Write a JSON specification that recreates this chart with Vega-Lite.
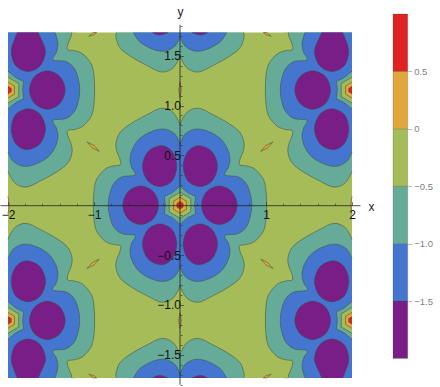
{"$schema":"https://vega.github.io/schema/vega-lite/v6.json","padding":{"left":0,"top":5,"right":0,"bottom":0},"background":"white","bounds":"flush","spacing":33,"config":{"view":{"stroke":null},"font":"Liberation Sans"},
"datasets":{"c":[
{"s":1,"l":"t","x":0,"y":0.813},{"s":1,"l":"t","x":0,"y":0.813},{"s":1,"l":"t","x":0.078,"y":0.93},{"s":1,"l":"t","x":0.213,"y":0.973},{"s":1,"l":"t","x":0.388,"y":0.906},{"s":1,"l":"t","x":0.581,"y":0.813},{"s":1,"l":"t","x":0.698,"y":0.729},{"s":1,"l":"t","x":0.744,"y":0.629},{"s":1,"l":"t","x":0.736,"y":0.545},{"s":1,"l":"t","x":0.698,"y":0.462},{"s":1,"l":"t","x":0.695,"y":0.405},{"s":1,"l":"t","x":0.775,"y":0.395},{"s":1,"l":"t","x":0.872,"y":0.361},{"s":1,"l":"t","x":0.969,"y":0.261},{"s":1,"l":"t","x":1.0,"y":0.144},{"s":1,"l":"t","x":1.008,"y":0},{"s":1,"l":"t","x":1.0,"y":-0.144},{"s":1,"l":"t","x":0.969,"y":-0.261},{"s":1,"l":"t","x":0.872,"y":-0.361},{"s":1,"l":"t","x":0.775,"y":-0.395},{"s":1,"l":"t","x":0.695,"y":-0.405},{"s":1,"l":"t","x":0.698,"y":-0.462},{"s":1,"l":"t","x":0.736,"y":-0.545},{"s":1,"l":"t","x":0.744,"y":-0.629},{"s":1,"l":"t","x":0.698,"y":-0.729},{"s":1,"l":"t","x":0.581,"y":-0.813},{"s":1,"l":"t","x":0.388,"y":-0.906},{"s":1,"l":"t","x":0.213,"y":-0.973},{"s":1,"l":"t","x":0.078,"y":-0.93},{"s":1,"l":"t","x":0,"y":-0.813},{"s":1,"l":"t","x":0,"y":-0.813},{"s":1,"l":"t","x":-0.078,"y":-0.93},{"s":1,"l":"t","x":-0.213,"y":-0.973},{"s":1,"l":"t","x":-0.388,"y":-0.906},{"s":1,"l":"t","x":-0.581,"y":-0.813},{"s":1,"l":"t","x":-0.698,"y":-0.729},{"s":1,"l":"t","x":-0.744,"y":-0.629},{"s":1,"l":"t","x":-0.736,"y":-0.545},{"s":1,"l":"t","x":-0.698,"y":-0.462},{"s":1,"l":"t","x":-0.695,"y":-0.405},{"s":1,"l":"t","x":-0.775,"y":-0.395},{"s":1,"l":"t","x":-0.872,"y":-0.361},{"s":1,"l":"t","x":-0.969,"y":-0.261},{"s":1,"l":"t","x":-1.0,"y":-0.144},{"s":1,"l":"t","x":-1.008,"y":0},{"s":1,"l":"t","x":-1.0,"y":0.144},{"s":1,"l":"t","x":-0.969,"y":0.261},{"s":1,"l":"t","x":-0.872,"y":0.361},{"s":1,"l":"t","x":-0.775,"y":0.395},{"s":1,"l":"t","x":-0.695,"y":0.405},{"s":1,"l":"t","x":-0.698,"y":0.462},{"s":1,"l":"t","x":-0.736,"y":0.545},{"s":1,"l":"t","x":-0.744,"y":0.629},{"s":1,"l":"t","x":-0.698,"y":0.729},{"s":1,"l":"t","x":-0.581,"y":0.813},{"s":1,"l":"t","x":-0.388,"y":0.906},{"s":1,"l":"t","x":-0.213,"y":0.973},{"s":1,"l":"t","x":-0.078,"y":0.93},{"s":1,"l":"t","x":0,"y":0.813},{"s":1,"l":"t","x":0,"y":0.813},
{"s":2,"l":"t","c":1,"x":-2,"y":1.732},{"s":2,"l":"t","c":1,"x":-2,"y":1.732},{"s":2,"l":"t","c":1,"x":-1.26,"y":1.732},{"s":2,"l":"t","x":-1.26,"y":1.732},{"s":2,"l":"t","x":-1.264,"y":1.7},{"s":2,"l":"t","x":-1.302,"y":1.617},{"s":2,"l":"t","x":-1.305,"y":1.56},{"s":2,"l":"t","x":-1.225,"y":1.55},{"s":2,"l":"t","x":-1.128,"y":1.516},{"s":2,"l":"t","x":-1.031,"y":1.416},{"s":2,"l":"t","x":-1,"y":1.299},{"s":2,"l":"t","x":-0.992,"y":1.155},{"s":2,"l":"t","x":-1,"y":1.011},{"s":2,"l":"t","x":-1.031,"y":0.894},{"s":2,"l":"t","x":-1.128,"y":0.794},{"s":2,"l":"t","x":-1.225,"y":0.76},{"s":2,"l":"t","x":-1.305,"y":0.75},{"s":2,"l":"t","x":-1.302,"y":0.693},{"s":2,"l":"t","x":-1.264,"y":0.61},{"s":2,"l":"t","x":-1.256,"y":0.526},{"s":2,"l":"t","x":-1.302,"y":0.426},{"s":2,"l":"t","x":-1.419,"y":0.342},{"s":2,"l":"t","x":-1.612,"y":0.249},{"s":2,"l":"t","x":-1.787,"y":0.182},{"s":2,"l":"t","x":-1.922,"y":0.225},{"s":2,"l":"t","x":-2,"y":0.342},
{"s":3,"l":"t","c":1,"x":2,"y":1.732},{"s":3,"l":"t","c":1,"x":2,"y":1.732},{"s":3,"l":"t","c":1,"x":1.26,"y":1.732},{"s":3,"l":"t","x":1.26,"y":1.732},{"s":3,"l":"t","x":1.264,"y":1.7},{"s":3,"l":"t","x":1.302,"y":1.617},{"s":3,"l":"t","x":1.305,"y":1.56},{"s":3,"l":"t","x":1.225,"y":1.55},{"s":3,"l":"t","x":1.128,"y":1.516},{"s":3,"l":"t","x":1.031,"y":1.416},{"s":3,"l":"t","x":1,"y":1.299},{"s":3,"l":"t","x":0.992,"y":1.155},{"s":3,"l":"t","x":1,"y":1.011},{"s":3,"l":"t","x":1.031,"y":0.894},{"s":3,"l":"t","x":1.128,"y":0.794},{"s":3,"l":"t","x":1.225,"y":0.76},{"s":3,"l":"t","x":1.305,"y":0.75},{"s":3,"l":"t","x":1.302,"y":0.693},{"s":3,"l":"t","x":1.264,"y":0.61},{"s":3,"l":"t","x":1.256,"y":0.526},{"s":3,"l":"t","x":1.302,"y":0.426},{"s":3,"l":"t","x":1.419,"y":0.342},{"s":3,"l":"t","x":1.612,"y":0.249},{"s":3,"l":"t","x":1.787,"y":0.182},{"s":3,"l":"t","x":1.922,"y":0.225},{"s":3,"l":"t","x":2,"y":0.342},
{"s":4,"l":"t","c":1,"x":-2,"y":-1.732},{"s":4,"l":"t","c":1,"x":-2,"y":-1.732},{"s":4,"l":"t","c":1,"x":-1.26,"y":-1.732},{"s":4,"l":"t","x":-1.26,"y":-1.732},{"s":4,"l":"t","x":-1.264,"y":-1.7},{"s":4,"l":"t","x":-1.302,"y":-1.617},{"s":4,"l":"t","x":-1.305,"y":-1.56},{"s":4,"l":"t","x":-1.225,"y":-1.55},{"s":4,"l":"t","x":-1.128,"y":-1.516},{"s":4,"l":"t","x":-1.031,"y":-1.416},{"s":4,"l":"t","x":-1,"y":-1.299},{"s":4,"l":"t","x":-0.992,"y":-1.155},{"s":4,"l":"t","x":-1,"y":-1.011},{"s":4,"l":"t","x":-1.031,"y":-0.894},{"s":4,"l":"t","x":-1.128,"y":-0.794},{"s":4,"l":"t","x":-1.225,"y":-0.76},{"s":4,"l":"t","x":-1.305,"y":-0.75},{"s":4,"l":"t","x":-1.302,"y":-0.693},{"s":4,"l":"t","x":-1.264,"y":-0.61},{"s":4,"l":"t","x":-1.256,"y":-0.526},{"s":4,"l":"t","x":-1.302,"y":-0.426},{"s":4,"l":"t","x":-1.419,"y":-0.342},{"s":4,"l":"t","x":-1.612,"y":-0.249},{"s":4,"l":"t","x":-1.787,"y":-0.182},{"s":4,"l":"t","x":-1.922,"y":-0.225},{"s":4,"l":"t","x":-2,"y":-0.342},
{"s":5,"l":"t","c":1,"x":2,"y":-1.732},{"s":5,"l":"t","c":1,"x":2,"y":-1.732},{"s":5,"l":"t","c":1,"x":1.26,"y":-1.732},{"s":5,"l":"t","x":1.26,"y":-1.732},{"s":5,"l":"t","x":1.264,"y":-1.7},{"s":5,"l":"t","x":1.302,"y":-1.617},{"s":5,"l":"t","x":1.305,"y":-1.56},{"s":5,"l":"t","x":1.225,"y":-1.55},{"s":5,"l":"t","x":1.128,"y":-1.516},{"s":5,"l":"t","x":1.031,"y":-1.416},{"s":5,"l":"t","x":1,"y":-1.299},{"s":5,"l":"t","x":0.992,"y":-1.155},{"s":5,"l":"t","x":1,"y":-1.011},{"s":5,"l":"t","x":1.031,"y":-0.894},{"s":5,"l":"t","x":1.128,"y":-0.794},{"s":5,"l":"t","x":1.225,"y":-0.76},{"s":5,"l":"t","x":1.305,"y":-0.75},{"s":5,"l":"t","x":1.302,"y":-0.693},{"s":5,"l":"t","x":1.264,"y":-0.61},{"s":5,"l":"t","x":1.256,"y":-0.526},{"s":5,"l":"t","x":1.302,"y":-0.426},{"s":5,"l":"t","x":1.419,"y":-0.342},{"s":5,"l":"t","x":1.612,"y":-0.249},{"s":5,"l":"t","x":1.787,"y":-0.182},{"s":5,"l":"t","x":1.922,"y":-0.225},{"s":5,"l":"t","x":2,"y":-0.342},
{"s":6,"l":"t","x":0.74,"y":1.732},{"s":6,"l":"t","x":0.744,"y":1.68},{"s":6,"l":"t","x":0.698,"y":1.58},{"s":6,"l":"t","x":0.581,"y":1.496},{"s":6,"l":"t","x":0.388,"y":1.403},{"s":6,"l":"t","x":0.213,"y":1.336},{"s":6,"l":"t","x":0.078,"y":1.379},{"s":6,"l":"t","x":0,"y":1.496},{"s":6,"l":"t","x":0,"y":1.496},{"s":6,"l":"t","x":-0.078,"y":1.379},{"s":6,"l":"t","x":-0.213,"y":1.336},{"s":6,"l":"t","x":-0.388,"y":1.403},{"s":6,"l":"t","x":-0.581,"y":1.496},{"s":6,"l":"t","x":-0.698,"y":1.58},{"s":6,"l":"t","x":-0.744,"y":1.68},{"s":6,"l":"t","x":-0.74,"y":1.732},
{"s":7,"l":"t","x":0.74,"y":-1.732},{"s":7,"l":"t","x":0.744,"y":-1.68},{"s":7,"l":"t","x":0.698,"y":-1.58},{"s":7,"l":"t","x":0.581,"y":-1.496},{"s":7,"l":"t","x":0.388,"y":-1.403},{"s":7,"l":"t","x":0.213,"y":-1.336},{"s":7,"l":"t","x":0.078,"y":-1.379},{"s":7,"l":"t","x":0,"y":-1.496},{"s":7,"l":"t","x":0,"y":-1.496},{"s":7,"l":"t","x":-0.078,"y":-1.379},{"s":7,"l":"t","x":-0.213,"y":-1.336},{"s":7,"l":"t","x":-0.388,"y":-1.403},{"s":7,"l":"t","x":-0.581,"y":-1.496},{"s":7,"l":"t","x":-0.698,"y":-1.58},{"s":7,"l":"t","x":-0.744,"y":-1.68},{"s":7,"l":"t","x":-0.74,"y":-1.732},
{"s":8,"l":"b","x":0,"y":0.62},{"s":8,"l":"b","x":0,"y":0.62},{"s":8,"l":"b","x":0.058,"y":0.712},{"s":8,"l":"b","x":0.174,"y":0.763},{"s":8,"l":"b","x":0.31,"y":0.746},{"s":8,"l":"b","x":0.465,"y":0.672},{"s":8,"l":"b","x":0.554,"y":0.562},{"s":8,"l":"b","x":0.581,"y":0.462},{"s":8,"l":"b","x":0.562,"y":0.378},{"s":8,"l":"b","x":0.523,"y":0.304},{"s":8,"l":"b","x":0.678,"y":0.284},{"s":8,"l":"b","x":0.775,"y":0.211},{"s":8,"l":"b","x":0.822,"y":0.094},{"s":8,"l":"b","x":0.833,"y":0},{"s":8,"l":"b","x":0.822,"y":-0.094},{"s":8,"l":"b","x":0.775,"y":-0.211},{"s":8,"l":"b","x":0.678,"y":-0.284},{"s":8,"l":"b","x":0.523,"y":-0.304},{"s":8,"l":"b","x":0.562,"y":-0.378},{"s":8,"l":"b","x":0.581,"y":-0.462},{"s":8,"l":"b","x":0.554,"y":-0.562},{"s":8,"l":"b","x":0.465,"y":-0.672},{"s":8,"l":"b","x":0.31,"y":-0.746},{"s":8,"l":"b","x":0.174,"y":-0.763},{"s":8,"l":"b","x":0.058,"y":-0.712},{"s":8,"l":"b","x":0,"y":-0.62},{"s":8,"l":"b","x":0,"y":-0.62},{"s":8,"l":"b","x":-0.058,"y":-0.712},{"s":8,"l":"b","x":-0.174,"y":-0.763},{"s":8,"l":"b","x":-0.31,"y":-0.746},{"s":8,"l":"b","x":-0.465,"y":-0.672},{"s":8,"l":"b","x":-0.554,"y":-0.562},{"s":8,"l":"b","x":-0.581,"y":-0.462},{"s":8,"l":"b","x":-0.562,"y":-0.378},{"s":8,"l":"b","x":-0.523,"y":-0.304},{"s":8,"l":"b","x":-0.678,"y":-0.284},{"s":8,"l":"b","x":-0.775,"y":-0.211},{"s":8,"l":"b","x":-0.822,"y":-0.094},{"s":8,"l":"b","x":-0.833,"y":0},{"s":8,"l":"b","x":-0.822,"y":0.094},{"s":8,"l":"b","x":-0.775,"y":0.211},{"s":8,"l":"b","x":-0.678,"y":0.284},{"s":8,"l":"b","x":-0.523,"y":0.304},{"s":8,"l":"b","x":-0.562,"y":0.378},{"s":8,"l":"b","x":-0.581,"y":0.462},{"s":8,"l":"b","x":-0.554,"y":0.562},{"s":8,"l":"b","x":-0.465,"y":0.672},{"s":8,"l":"b","x":-0.31,"y":0.746},{"s":8,"l":"b","x":-0.174,"y":0.763},{"s":8,"l":"b","x":-0.058,"y":0.712},{"s":8,"l":"b","x":0,"y":0.62},{"s":8,"l":"b","x":0,"y":0.62},
{"s":9,"l":"b","c":1,"x":-2,"y":1.732},{"s":9,"l":"b","c":1,"x":-2,"y":1.732},{"s":9,"l":"b","c":1,"x":-1.458,"y":1.732},{"s":9,"l":"b","x":-1.458,"y":1.732},{"s":9,"l":"b","x":-1.446,"y":1.717},{"s":9,"l":"b","x":-1.419,"y":1.617},{"s":9,"l":"b","x":-1.438,"y":1.533},{"s":9,"l":"b","x":-1.477,"y":1.459},{"s":9,"l":"b","x":-1.322,"y":1.439},{"s":9,"l":"b","x":-1.225,"y":1.366},{"s":9,"l":"b","x":-1.178,"y":1.249},{"s":9,"l":"b","x":-1.167,"y":1.155},{"s":9,"l":"b","x":-1.178,"y":1.061},{"s":9,"l":"b","x":-1.225,"y":0.944},{"s":9,"l":"b","x":-1.322,"y":0.871},{"s":9,"l":"b","x":-1.477,"y":0.851},{"s":9,"l":"b","x":-1.438,"y":0.777},{"s":9,"l":"b","x":-1.419,"y":0.693},{"s":9,"l":"b","x":-1.446,"y":0.593},{"s":9,"l":"b","x":-1.535,"y":0.483},{"s":9,"l":"b","x":-1.69,"y":0.409},{"s":9,"l":"b","x":-1.826,"y":0.392},{"s":9,"l":"b","x":-1.942,"y":0.443},{"s":9,"l":"b","x":-2,"y":0.535},
{"s":10,"l":"b","c":1,"x":2,"y":1.732},{"s":10,"l":"b","c":1,"x":2,"y":1.732},{"s":10,"l":"b","c":1,"x":1.458,"y":1.732},{"s":10,"l":"b","x":1.458,"y":1.732},{"s":10,"l":"b","x":1.446,"y":1.717},{"s":10,"l":"b","x":1.419,"y":1.617},{"s":10,"l":"b","x":1.438,"y":1.533},{"s":10,"l":"b","x":1.477,"y":1.459},{"s":10,"l":"b","x":1.322,"y":1.439},{"s":10,"l":"b","x":1.225,"y":1.366},{"s":10,"l":"b","x":1.178,"y":1.249},{"s":10,"l":"b","x":1.167,"y":1.155},{"s":10,"l":"b","x":1.178,"y":1.061},{"s":10,"l":"b","x":1.225,"y":0.944},{"s":10,"l":"b","x":1.322,"y":0.871},{"s":10,"l":"b","x":1.477,"y":0.851},{"s":10,"l":"b","x":1.438,"y":0.777},{"s":10,"l":"b","x":1.419,"y":0.693},{"s":10,"l":"b","x":1.446,"y":0.593},{"s":10,"l":"b","x":1.535,"y":0.483},{"s":10,"l":"b","x":1.69,"y":0.409},{"s":10,"l":"b","x":1.826,"y":0.392},{"s":10,"l":"b","x":1.942,"y":0.443},{"s":10,"l":"b","x":2,"y":0.535},
{"s":11,"l":"b","c":1,"x":-2,"y":-1.732},{"s":11,"l":"b","c":1,"x":-2,"y":-1.732},{"s":11,"l":"b","c":1,"x":-1.458,"y":-1.732},{"s":11,"l":"b","x":-1.458,"y":-1.732},{"s":11,"l":"b","x":-1.446,"y":-1.717},{"s":11,"l":"b","x":-1.419,"y":-1.617},{"s":11,"l":"b","x":-1.438,"y":-1.533},{"s":11,"l":"b","x":-1.477,"y":-1.459},{"s":11,"l":"b","x":-1.322,"y":-1.439},{"s":11,"l":"b","x":-1.225,"y":-1.366},{"s":11,"l":"b","x":-1.178,"y":-1.249},{"s":11,"l":"b","x":-1.167,"y":-1.155},{"s":11,"l":"b","x":-1.178,"y":-1.061},{"s":11,"l":"b","x":-1.225,"y":-0.944},{"s":11,"l":"b","x":-1.322,"y":-0.871},{"s":11,"l":"b","x":-1.477,"y":-0.851},{"s":11,"l":"b","x":-1.438,"y":-0.777},{"s":11,"l":"b","x":-1.419,"y":-0.693},{"s":11,"l":"b","x":-1.446,"y":-0.593},{"s":11,"l":"b","x":-1.535,"y":-0.483},{"s":11,"l":"b","x":-1.69,"y":-0.409},{"s":11,"l":"b","x":-1.826,"y":-0.392},{"s":11,"l":"b","x":-1.942,"y":-0.443},{"s":11,"l":"b","x":-2,"y":-0.535},
{"s":12,"l":"b","c":1,"x":2,"y":-1.732},{"s":12,"l":"b","c":1,"x":2,"y":-1.732},{"s":12,"l":"b","c":1,"x":1.458,"y":-1.732},{"s":12,"l":"b","x":1.458,"y":-1.732},{"s":12,"l":"b","x":1.446,"y":-1.717},{"s":12,"l":"b","x":1.419,"y":-1.617},{"s":12,"l":"b","x":1.438,"y":-1.533},{"s":12,"l":"b","x":1.477,"y":-1.459},{"s":12,"l":"b","x":1.322,"y":-1.439},{"s":12,"l":"b","x":1.225,"y":-1.366},{"s":12,"l":"b","x":1.178,"y":-1.249},{"s":12,"l":"b","x":1.167,"y":-1.155},{"s":12,"l":"b","x":1.178,"y":-1.061},{"s":12,"l":"b","x":1.225,"y":-0.944},{"s":12,"l":"b","x":1.322,"y":-0.871},{"s":12,"l":"b","x":1.477,"y":-0.851},{"s":12,"l":"b","x":1.438,"y":-0.777},{"s":12,"l":"b","x":1.419,"y":-0.693},{"s":12,"l":"b","x":1.446,"y":-0.593},{"s":12,"l":"b","x":1.535,"y":-0.483},{"s":12,"l":"b","x":1.69,"y":-0.409},{"s":12,"l":"b","x":1.826,"y":-0.392},{"s":12,"l":"b","x":1.942,"y":-0.443},{"s":12,"l":"b","x":2,"y":-0.535},
{"s":13,"l":"b","x":0.542,"y":1.732},{"s":13,"l":"b","x":0.465,"y":1.637},{"s":13,"l":"b","x":0.31,"y":1.563},{"s":13,"l":"b","x":0.174,"y":1.546},{"s":13,"l":"b","x":0.058,"y":1.597},{"s":13,"l":"b","x":0,"y":1.69},{"s":13,"l":"b","x":0,"y":1.69},{"s":13,"l":"b","x":-0.058,"y":1.597},{"s":13,"l":"b","x":-0.174,"y":1.546},{"s":13,"l":"b","x":-0.31,"y":1.563},{"s":13,"l":"b","x":-0.465,"y":1.637},{"s":13,"l":"b","x":-0.542,"y":1.732},
{"s":14,"l":"b","x":0.542,"y":-1.732},{"s":14,"l":"b","x":0.465,"y":-1.637},{"s":14,"l":"b","x":0.31,"y":-1.563},{"s":14,"l":"b","x":0.174,"y":-1.546},{"s":14,"l":"b","x":0.058,"y":-1.597},{"s":14,"l":"b","x":0,"y":-1.69},{"s":14,"l":"b","x":0,"y":-1.69},{"s":14,"l":"b","x":-0.058,"y":-1.597},{"s":14,"l":"b","x":-0.174,"y":-1.546},{"s":14,"l":"b","x":-0.31,"y":-1.563},{"s":14,"l":"b","x":-0.465,"y":-1.637},{"s":14,"l":"b","x":-0.542,"y":-1.732},
{"s":15,"l":"p","x":-1.65,"y":1.732},{"s":15,"l":"p","x":-1.63,"y":1.695},{"s":15,"l":"p","x":-1.564,"y":1.545},{"s":15,"l":"p","x":-1.625,"y":1.4},{"s":15,"l":"p","x":-1.765,"y":1.342},{"s":15,"l":"p","x":-1.91,"y":1.4},{"s":15,"l":"p","x":-1.962,"y":1.545},{"s":15,"l":"p","x":-1.915,"y":1.685},{"s":15,"l":"p","x":-1.89,"y":1.732},
{"s":16,"l":"p","x":1.65,"y":1.732},{"s":16,"l":"p","x":1.63,"y":1.695},{"s":16,"l":"p","x":1.564,"y":1.545},{"s":16,"l":"p","x":1.625,"y":1.4},{"s":16,"l":"p","x":1.765,"y":1.342},{"s":16,"l":"p","x":1.91,"y":1.4},{"s":16,"l":"p","x":1.962,"y":1.545},{"s":16,"l":"p","x":1.915,"y":1.685},{"s":16,"l":"p","x":1.89,"y":1.732},
{"s":17,"l":"p","x":-1.65,"y":-1.732},{"s":17,"l":"p","x":-1.63,"y":-1.695},{"s":17,"l":"p","x":-1.564,"y":-1.545},{"s":17,"l":"p","x":-1.625,"y":-1.4},{"s":17,"l":"p","x":-1.765,"y":-1.342},{"s":17,"l":"p","x":-1.91,"y":-1.4},{"s":17,"l":"p","x":-1.962,"y":-1.545},{"s":17,"l":"p","x":-1.915,"y":-1.685},{"s":17,"l":"p","x":-1.89,"y":-1.732},
{"s":18,"l":"p","x":1.65,"y":-1.732},{"s":18,"l":"p","x":1.63,"y":-1.695},{"s":18,"l":"p","x":1.564,"y":-1.545},{"s":18,"l":"p","x":1.625,"y":-1.4},{"s":18,"l":"p","x":1.765,"y":-1.342},{"s":18,"l":"p","x":1.91,"y":-1.4},{"s":18,"l":"p","x":1.962,"y":-1.545},{"s":18,"l":"p","x":1.915,"y":-1.685},{"s":18,"l":"p","x":1.89,"y":-1.732},
{"s":19,"l":"p","x":0.32,"y":1.732},{"s":19,"l":"p","x":0.28,"y":1.714},{"s":19,"l":"p","x":0.235,"y":1.708},{"s":19,"l":"p","x":0.19,"y":1.714},{"s":19,"l":"p","x":0.14,"y":1.732},
{"s":20,"l":"p","x":-0.32,"y":1.732},{"s":20,"l":"p","x":-0.28,"y":1.714},{"s":20,"l":"p","x":-0.235,"y":1.708},{"s":20,"l":"p","x":-0.19,"y":1.714},{"s":20,"l":"p","x":-0.14,"y":1.732},
{"s":21,"l":"p","x":0.32,"y":-1.732},{"s":21,"l":"p","x":0.28,"y":-1.714},{"s":21,"l":"p","x":0.235,"y":-1.708},{"s":21,"l":"p","x":0.19,"y":-1.714},{"s":21,"l":"p","x":0.14,"y":-1.732},
{"s":22,"l":"p","x":-0.32,"y":-1.732},{"s":22,"l":"p","x":-0.28,"y":-1.714},{"s":22,"l":"p","x":-0.235,"y":-1.708},{"s":22,"l":"p","x":-0.19,"y":-1.714},{"s":22,"l":"p","x":-0.14,"y":-1.732},
{"s":40,"l":"p","x":0.21,"y":0.597},{"s":40,"l":"p","x":0.37,"y":0.54},{"s":40,"l":"p","x":0.436,"y":0.39},{"s":40,"l":"p","x":0.375,"y":0.245},{"s":40,"l":"p","x":0.235,"y":0.187},{"s":40,"l":"p","x":0.09,"y":0.245},{"s":40,"l":"p","x":0.038,"y":0.39},{"s":40,"l":"p","x":0.085,"y":0.53},
{"s":41,"l":"p","x":-0.21,"y":0.597},{"s":41,"l":"p","x":-0.37,"y":0.54},{"s":41,"l":"p","x":-0.436,"y":0.39},{"s":41,"l":"p","x":-0.375,"y":0.245},{"s":41,"l":"p","x":-0.235,"y":0.187},{"s":41,"l":"p","x":-0.09,"y":0.245},{"s":41,"l":"p","x":-0.038,"y":0.39},{"s":41,"l":"p","x":-0.085,"y":0.53},
{"s":42,"l":"p","x":0.21,"y":-0.597},{"s":42,"l":"p","x":0.37,"y":-0.54},{"s":42,"l":"p","x":0.436,"y":-0.39},{"s":42,"l":"p","x":0.375,"y":-0.245},{"s":42,"l":"p","x":0.235,"y":-0.187},{"s":42,"l":"p","x":0.09,"y":-0.245},{"s":42,"l":"p","x":0.038,"y":-0.39},{"s":42,"l":"p","x":0.085,"y":-0.53},
{"s":43,"l":"p","x":-0.21,"y":-0.597},{"s":43,"l":"p","x":-0.37,"y":-0.54},{"s":43,"l":"p","x":-0.436,"y":-0.39},{"s":43,"l":"p","x":-0.375,"y":-0.245},{"s":43,"l":"p","x":-0.235,"y":-0.187},{"s":43,"l":"p","x":-0.09,"y":-0.245},{"s":43,"l":"p","x":-0.038,"y":-0.39},{"s":43,"l":"p","x":-0.085,"y":-0.53},
{"s":44,"l":"p","x":0.457,"y":0.193},{"s":44,"l":"p","x":0.603,"y":0.135},{"s":44,"l":"p","x":0.665,"y":0},{"s":44,"l":"p","x":0.603,"y":-0.135},{"s":44,"l":"p","x":0.457,"y":-0.193},{"s":44,"l":"p","x":0.31,"y":-0.135},{"s":44,"l":"p","x":0.25,"y":0},{"s":44,"l":"p","x":0.31,"y":0.135},
{"s":45,"l":"p","x":-0.457,"y":0.193},{"s":45,"l":"p","x":-0.603,"y":0.135},{"s":45,"l":"p","x":-0.665,"y":0},{"s":45,"l":"p","x":-0.603,"y":-0.135},{"s":45,"l":"p","x":-0.457,"y":-0.193},{"s":45,"l":"p","x":-0.31,"y":-0.135},{"s":45,"l":"p","x":-0.25,"y":0},{"s":45,"l":"p","x":-0.31,"y":0.135},
{"s":46,"l":"p","x":-1.79,"y":0.558},{"s":46,"l":"p","x":-1.63,"y":0.615},{"s":46,"l":"p","x":-1.564,"y":0.765},{"s":46,"l":"p","x":-1.625,"y":0.91},{"s":46,"l":"p","x":-1.765,"y":0.968},{"s":46,"l":"p","x":-1.91,"y":0.91},{"s":46,"l":"p","x":-1.962,"y":0.765},{"s":46,"l":"p","x":-1.915,"y":0.625},
{"s":47,"l":"p","x":1.79,"y":0.558},{"s":47,"l":"p","x":1.63,"y":0.615},{"s":47,"l":"p","x":1.564,"y":0.765},{"s":47,"l":"p","x":1.625,"y":0.91},{"s":47,"l":"p","x":1.765,"y":0.968},{"s":47,"l":"p","x":1.91,"y":0.91},{"s":47,"l":"p","x":1.962,"y":0.765},{"s":47,"l":"p","x":1.915,"y":0.625},
{"s":48,"l":"p","x":-1.79,"y":-0.558},{"s":48,"l":"p","x":-1.63,"y":-0.615},{"s":48,"l":"p","x":-1.564,"y":-0.765},{"s":48,"l":"p","x":-1.625,"y":-0.91},{"s":48,"l":"p","x":-1.765,"y":-0.968},{"s":48,"l":"p","x":-1.91,"y":-0.91},{"s":48,"l":"p","x":-1.962,"y":-0.765},{"s":48,"l":"p","x":-1.915,"y":-0.625},
{"s":49,"l":"p","x":1.79,"y":-0.558},{"s":49,"l":"p","x":1.63,"y":-0.615},{"s":49,"l":"p","x":1.564,"y":-0.765},{"s":49,"l":"p","x":1.625,"y":-0.91},{"s":49,"l":"p","x":1.765,"y":-0.968},{"s":49,"l":"p","x":1.91,"y":-0.91},{"s":49,"l":"p","x":1.962,"y":-0.765},{"s":49,"l":"p","x":1.915,"y":-0.625},
{"s":50,"l":"p","x":-1.543,"y":1.348},{"s":50,"l":"p","x":-1.397,"y":1.29},{"s":50,"l":"p","x":-1.335,"y":1.155},{"s":50,"l":"p","x":-1.397,"y":1.02},{"s":50,"l":"p","x":-1.543,"y":0.962},{"s":50,"l":"p","x":-1.69,"y":1.02},{"s":50,"l":"p","x":-1.75,"y":1.155},{"s":50,"l":"p","x":-1.69,"y":1.29},
{"s":51,"l":"p","x":1.543,"y":1.348},{"s":51,"l":"p","x":1.397,"y":1.29},{"s":51,"l":"p","x":1.335,"y":1.155},{"s":51,"l":"p","x":1.397,"y":1.02},{"s":51,"l":"p","x":1.543,"y":0.962},{"s":51,"l":"p","x":1.69,"y":1.02},{"s":51,"l":"p","x":1.75,"y":1.155},{"s":51,"l":"p","x":1.69,"y":1.29},
{"s":52,"l":"p","x":-1.543,"y":-1.348},{"s":52,"l":"p","x":-1.397,"y":-1.29},{"s":52,"l":"p","x":-1.335,"y":-1.155},{"s":52,"l":"p","x":-1.397,"y":-1.02},{"s":52,"l":"p","x":-1.543,"y":-0.962},{"s":52,"l":"p","x":-1.69,"y":-1.02},{"s":52,"l":"p","x":-1.75,"y":-1.155},{"s":52,"l":"p","x":-1.69,"y":-1.29},
{"s":53,"l":"p","x":1.543,"y":-1.348},{"s":53,"l":"p","x":1.397,"y":-1.29},{"s":53,"l":"p","x":1.335,"y":-1.155},{"s":53,"l":"p","x":1.397,"y":-1.02},{"s":53,"l":"p","x":1.543,"y":-0.962},{"s":53,"l":"p","x":1.69,"y":-1.02},{"s":53,"l":"p","x":1.75,"y":-1.155},{"s":53,"l":"p","x":1.69,"y":-1.29},
{"s":100,"l":"t","x":0,"y":0.19},{"s":100,"l":"t","x":0.09,"y":0.125},{"s":100,"l":"t","x":0.182,"y":0.085},{"s":100,"l":"t","x":0.17,"y":0},{"s":100,"l":"t","x":0.182,"y":-0.085},{"s":100,"l":"t","x":0.09,"y":-0.125},{"s":100,"l":"t","x":0,"y":-0.19},{"s":100,"l":"t","x":-0.09,"y":-0.125},{"s":100,"l":"t","x":-0.182,"y":-0.085},{"s":100,"l":"t","x":-0.17,"y":0},{"s":100,"l":"t","x":-0.182,"y":0.085},{"s":100,"l":"t","x":-0.09,"y":0.125},{"s":100,"l":"t","x":0,"y":0.19},
{"s":101,"l":"t","x":-2,"y":1.345},{"s":101,"l":"t","x":-1.91,"y":1.28},{"s":101,"l":"t","x":-1.818,"y":1.24},{"s":101,"l":"t","x":-1.83,"y":1.155},{"s":101,"l":"t","x":-1.818,"y":1.07},{"s":101,"l":"t","x":-1.91,"y":1.03},{"s":101,"l":"t","x":-2,"y":0.965},
{"s":102,"l":"t","x":2,"y":1.345},{"s":102,"l":"t","x":1.91,"y":1.28},{"s":102,"l":"t","x":1.818,"y":1.24},{"s":102,"l":"t","x":1.83,"y":1.155},{"s":102,"l":"t","x":1.818,"y":1.07},{"s":102,"l":"t","x":1.91,"y":1.03},{"s":102,"l":"t","x":2,"y":0.965},
{"s":103,"l":"t","x":-2,"y":-1.345},{"s":103,"l":"t","x":-1.91,"y":-1.28},{"s":103,"l":"t","x":-1.818,"y":-1.24},{"s":103,"l":"t","x":-1.83,"y":-1.155},{"s":103,"l":"t","x":-1.818,"y":-1.07},{"s":103,"l":"t","x":-1.91,"y":-1.03},{"s":103,"l":"t","x":-2,"y":-0.965},
{"s":104,"l":"t","x":2,"y":-1.345},{"s":104,"l":"t","x":1.91,"y":-1.28},{"s":104,"l":"t","x":1.818,"y":-1.24},{"s":104,"l":"t","x":1.83,"y":-1.155},{"s":104,"l":"t","x":1.818,"y":-1.07},{"s":104,"l":"t","x":1.91,"y":-1.03},{"s":104,"l":"t","x":2,"y":-0.965},
{"s":105,"l":"g","x":0,"y":0.13},{"s":105,"l":"g","x":0.125,"y":0.065},{"s":105,"l":"g","x":0.125,"y":-0.065},{"s":105,"l":"g","x":0,"y":-0.13},{"s":105,"l":"g","x":-0.125,"y":-0.065},{"s":105,"l":"g","x":-0.125,"y":0.065},{"s":105,"l":"g","x":0,"y":0.13},
{"s":106,"l":"g","x":-2,"y":1.285},{"s":106,"l":"g","x":-1.875,"y":1.22},{"s":106,"l":"g","x":-1.875,"y":1.09},{"s":106,"l":"g","x":-2,"y":1.025},
{"s":107,"l":"g","x":2,"y":1.285},{"s":107,"l":"g","x":1.875,"y":1.22},{"s":107,"l":"g","x":1.875,"y":1.09},{"s":107,"l":"g","x":2,"y":1.025},
{"s":108,"l":"g","x":-2,"y":-1.285},{"s":108,"l":"g","x":-1.875,"y":-1.22},{"s":108,"l":"g","x":-1.875,"y":-1.09},{"s":108,"l":"g","x":-2,"y":-1.025},
{"s":109,"l":"g","x":2,"y":-1.285},{"s":109,"l":"g","x":1.875,"y":-1.22},{"s":109,"l":"g","x":1.875,"y":-1.09},{"s":109,"l":"g","x":2,"y":-1.025},
{"s":110,"l":"o","x":0,"y":0.08},{"s":110,"l":"o","x":0.075,"y":0.04},{"s":110,"l":"o","x":0.075,"y":-0.04},{"s":110,"l":"o","x":0,"y":-0.08},{"s":110,"l":"o","x":-0.075,"y":-0.04},{"s":110,"l":"o","x":-0.075,"y":0.04},{"s":110,"l":"o","x":0,"y":0.08},
{"s":111,"l":"o","x":-2,"y":1.235},{"s":111,"l":"o","x":-1.925,"y":1.195},{"s":111,"l":"o","x":-1.925,"y":1.115},{"s":111,"l":"o","x":-2,"y":1.075},
{"s":112,"l":"o","x":2,"y":1.235},{"s":112,"l":"o","x":1.925,"y":1.195},{"s":112,"l":"o","x":1.925,"y":1.115},{"s":112,"l":"o","x":2,"y":1.075},
{"s":113,"l":"o","x":-2,"y":-1.235},{"s":113,"l":"o","x":-1.925,"y":-1.195},{"s":113,"l":"o","x":-1.925,"y":-1.115},{"s":113,"l":"o","x":-2,"y":-1.075},
{"s":114,"l":"o","x":2,"y":-1.235},{"s":114,"l":"o","x":1.925,"y":-1.195},{"s":114,"l":"o","x":1.925,"y":-1.115},{"s":114,"l":"o","x":2,"y":-1.075},
{"s":115,"l":"r","x":0,"y":0.037},{"s":115,"l":"r","x":0.036,"y":0.018},{"s":115,"l":"r","x":0.036,"y":-0.018},{"s":115,"l":"r","x":0,"y":-0.037},{"s":115,"l":"r","x":-0.036,"y":-0.018},{"s":115,"l":"r","x":-0.036,"y":0.018},{"s":115,"l":"r","x":0,"y":0.037},
{"s":116,"l":"r","x":-2,"y":1.192},{"s":116,"l":"r","x":-1.962,"y":1.173},{"s":116,"l":"r","x":-1.962,"y":1.137},{"s":116,"l":"r","x":-2,"y":1.118},
{"s":117,"l":"r","x":2,"y":1.192},{"s":117,"l":"r","x":1.962,"y":1.173},{"s":117,"l":"r","x":1.962,"y":1.137},{"s":117,"l":"r","x":2,"y":1.118},
{"s":118,"l":"r","x":-2,"y":-1.192},{"s":118,"l":"r","x":-1.962,"y":-1.173},{"s":118,"l":"r","x":-1.962,"y":-1.137},{"s":118,"l":"r","x":-2,"y":-1.118},
{"s":119,"l":"r","x":2,"y":-1.192},{"s":119,"l":"r","x":1.962,"y":-1.173},{"s":119,"l":"r","x":1.962,"y":-1.137},{"s":119,"l":"r","x":2,"y":-1.118},
{"s":120,"l":"o","x":-1.08,"y":0.635},{"s":120,"l":"o","x":-1.0,"y":0.6},{"s":120,"l":"o","x":-0.94,"y":0.54},{"s":120,"l":"o","x":-1.02,"y":0.575},{"s":120,"l":"o","x":-1.08,"y":0.635},
{"s":121,"l":"o","x":1.08,"y":0.635},{"s":121,"l":"o","x":1.0,"y":0.6},{"s":121,"l":"o","x":0.94,"y":0.54},{"s":121,"l":"o","x":1.02,"y":0.575},{"s":121,"l":"o","x":1.08,"y":0.635},
{"s":122,"l":"o","x":-1.08,"y":-0.635},{"s":122,"l":"o","x":-1.0,"y":-0.6},{"s":122,"l":"o","x":-0.94,"y":-0.54},{"s":122,"l":"o","x":-1.02,"y":-0.575},{"s":122,"l":"o","x":-1.08,"y":-0.635},
{"s":123,"l":"o","x":1.08,"y":-0.635},{"s":123,"l":"o","x":1.0,"y":-0.6},{"s":123,"l":"o","x":0.94,"y":-0.54},{"s":123,"l":"o","x":1.02,"y":-0.575},{"s":123,"l":"o","x":1.08,"y":-0.635},
{"s":124,"l":"o","x":-1.06,"y":1.695},{"s":124,"l":"o","x":-1.01,"y":1.732},{"s":124,"l":"o","x":-0.97,"y":1.732},{"s":124,"l":"o","x":-1.0,"y":1.71},{"s":124,"l":"o","x":-1.06,"y":1.695},
{"s":125,"l":"o","x":1.06,"y":1.695},{"s":125,"l":"o","x":1.01,"y":1.732},{"s":125,"l":"o","x":0.97,"y":1.732},{"s":125,"l":"o","x":1.0,"y":1.71},{"s":125,"l":"o","x":1.06,"y":1.695},
{"s":126,"l":"o","x":-1.06,"y":-1.695},{"s":126,"l":"o","x":-1.01,"y":-1.732},{"s":126,"l":"o","x":-0.97,"y":-1.732},{"s":126,"l":"o","x":-1.0,"y":-1.71},{"s":126,"l":"o","x":-1.06,"y":-1.695},
{"s":127,"l":"o","x":1.06,"y":-1.695},{"s":127,"l":"o","x":1.01,"y":-1.732},{"s":127,"l":"o","x":0.97,"y":-1.732},{"s":127,"l":"o","x":1.0,"y":-1.71},{"s":127,"l":"o","x":1.06,"y":-1.695},
{"s":128,"l":"o","x":0,"y":1.235},{"s":128,"l":"o","x":0.015,"y":1.155},{"s":128,"l":"o","x":0,"y":1.08},{"s":128,"l":"o","x":-0.015,"y":1.155},{"s":128,"l":"o","x":0,"y":1.235},
{"s":129,"l":"o","x":0,"y":-1.235},{"s":129,"l":"o","x":0.015,"y":-1.155},{"s":129,"l":"o","x":0,"y":-1.08},{"s":129,"l":"o","x":-0.015,"y":-1.155},{"s":129,"l":"o","x":0,"y":-1.235},
{"s":130,"l":"o","x":2,"y":0.09},{"s":130,"l":"o","x":1.985,"y":0},{"s":130,"l":"o","x":2,"y":-0.09},
{"s":131,"l":"o","x":-2,"y":0.09},{"s":131,"l":"o","x":-1.985,"y":0},{"s":131,"l":"o","x":-2,"y":-0.09}
]},
"hconcat":[
{"width":360,"height":370.7,
"encoding":{
"x":{"field":"x","type":"quantitative","scale":{"domain":[-2.093,2.093],"nice":false,"zero":false},
"axis":{"orient":"bottom","offset":-179.5,"zindex":1,"grid":false,"title":"x","titleX":371,"titleY":1,"titleAlign":"center","titleBaseline":"middle","titleFont":"Liberation Sans","titleFontWeight":"normal","titleFontSize":12,"titleColor":"#222","domainColor":"#222","domainWidth":0.8,"tickColor":"#333","tickWidth":0.7,"tickSize":{"condition":{"test":"abs(datum.value-round(datum.value))<0.01","value":-3.5},"value":-2},"values":[-2,-1.8,-1.6,-1.4,-1.2,-1,-0.8,-0.6,-0.4,-0.2,0.2,0.4,0.6,0.8,1,1.2,1.4,1.6,1.8,2],"labelExpr":"abs(datum.value-round(datum.value))<0.01?format(datum.value,'d'):''","labelFont":"Liberation Sans","labelFontSize":12,"labelColor":"#111","labelPadding":8,"labelAngle":0,"labelOverlap":false,"labelFlush":false}},
"y":{"field":"y","type":"quantitative","scale":{"domain":[-1.8,1.918],"nice":false,"zero":false},
"axis":{"orient":"left","offset":-180,"zindex":1,"grid":false,"title":"y","titleX":0,"titleY":-3,"titleAngle":0,"titleAlign":"center","titleBaseline":"middle","titleFont":"Liberation Sans","titleFontWeight":"normal","titleFontSize":12,"titleColor":"#222","domain":false,"tickColor":"#333","tickWidth":0.7,"tickSize":{"condition":{"test":"abs(datum.value*2-round(datum.value*2))<0.01","value":-3.5},"value":-2},"values":[-1.8,-1.7,-1.6,-1.5,-1.4,-1.3,-1.2,-1.1,-1,-0.9,-0.8,-0.7,-0.6,-0.5,-0.4,-0.3,-0.2,-0.1,0.1,0.2,0.3,0.4,0.5,0.6,0.7,0.8,0.9,1,1.1,1.2,1.3,1.4,1.5,1.6,1.7,1.8],"labelExpr":"abs(datum.value*2-round(datum.value*2))<0.01?format(datum.value,'.1f'):''","labelFont":"Liberation Sans","labelFontSize":12,"labelColor":"#111","labelPadding":3,"labelOverlap":false,"labelFlush":false}}
},
"layer":[
{"data":{"values":[{"x":-2,"x2":2,"y":-1.732,"y2":1.732}]},"mark":{"type":"rect","fill":"#a6bc58"},"encoding":{"x2":{"field":"x2"},"y2":{"field":"y2"}}},
{"data":{"name":"c"},"transform":[{"filter":"datum.s<40"}],"mark":{"type":"line","interpolate":"cardinal","tension":0,"strokeOpacity":0},"encoding":{"detail":{"field":"s","type":"nominal"},"order":{"value":null},"fill":{"field":"l","type":"nominal","legend":null,"scale":{"domain":["g","t","b","p","o","r"],"range":["#a6bc58","#66ab98","#4576cf","#7a1e87","#e0a73c","#df2222"]}}}},
{"data":{"name":"c"},"transform":[{"filter":"datum.s>=40 && datum.s<100"}],"mark":{"type":"line","interpolate":"cardinal-closed","tension":0,"strokeOpacity":0},"encoding":{"detail":{"field":"s","type":"nominal"},"order":{"value":null},"fill":{"field":"l","type":"nominal","legend":null,"scale":{"domain":["g","t","b","p","o","r"],"range":["#a6bc58","#66ab98","#4576cf","#7a1e87","#e0a73c","#df2222"]}}}},
{"data":{"name":"c"},"transform":[{"filter":"datum.s>=100"}],"mark":{"type":"line","interpolate":"linear","strokeOpacity":0},"encoding":{"detail":{"field":"s","type":"nominal"},"order":{"value":null},"fill":{"field":"l","type":"nominal","legend":null,"scale":{"domain":["g","t","b","p","o","r"],"range":["#a6bc58","#66ab98","#4576cf","#7a1e87","#e0a73c","#df2222"]}}}},
{"data":{"name":"c"},"transform":[{"filter":"datum.s<40 && !datum.c"}],"mark":{"type":"line","interpolate":"cardinal","tension":0,"stroke":"#3d4a3d","strokeWidth":0.7,"strokeOpacity":0.75},"encoding":{"detail":{"field":"s","type":"nominal"},"order":{"value":null}}},
{"data":{"name":"c"},"transform":[{"filter":"datum.s>=40 && datum.s<100"}],"mark":{"type":"line","interpolate":"cardinal-closed","tension":0,"stroke":"#3d4a3d","strokeWidth":0.7,"strokeOpacity":0.75},"encoding":{"detail":{"field":"s","type":"nominal"},"order":{"value":null}}},
{"data":{"name":"c"},"transform":[{"filter":"datum.s>=100"}],"mark":{"type":"line","interpolate":"linear","stroke":"#3d4a3d","strokeWidth":0.7,"strokeOpacity":0.75},"encoding":{"detail":{"field":"s","type":"nominal"},"order":{"value":null}}},
{"data":{"values":[{"x":0,"y":-1.8,"y2":1.81}]},"mark":{"type":"rule","stroke":"#222","strokeWidth":0.8},"encoding":{"y2":{"field":"y2"}}}
]},
{"width":14.7,"height":344.4,
"data":{"values":[{"l":"p","a":-2,"b":-1.5},{"l":"b","a":-1.5,"b":-1},{"l":"t","a":-1,"b":-0.5},{"l":"g","a":-0.5,"b":0},{"l":"o","a":0,"b":0.5},{"l":"r","a":0.5,"b":1}]},
"mark":{"type":"rect","stroke":"#3d4a3d","strokeWidth":0.4,"strokeOpacity":0.6},
"encoding":{"y":{"field":"a","type":"quantitative","scale":{"domain":[-2,1],"nice":false,"zero":false},"axis":{"orient":"right","title":null,"grid":false,"domain":false,"values":[-1.5,-1,-0.5,0,0.5],"labelExpr":"datum.value==0?'0':format(datum.value,'.1f')","tickColor":"#aaa","tickSize":4,"tickWidth":0.8,"labelFont":"Liberation Sans","labelFontSize":9.5,"labelColor":"#808080","labelPadding":2}},"y2":{"field":"b"},"fill":{"field":"l","type":"nominal","legend":null,"scale":{"domain":["g","t","b","p","o","r"],"range":["#a6bc58","#66ab98","#4576cf","#7a1e87","#e0a73c","#df2222"]}}}}
]}
